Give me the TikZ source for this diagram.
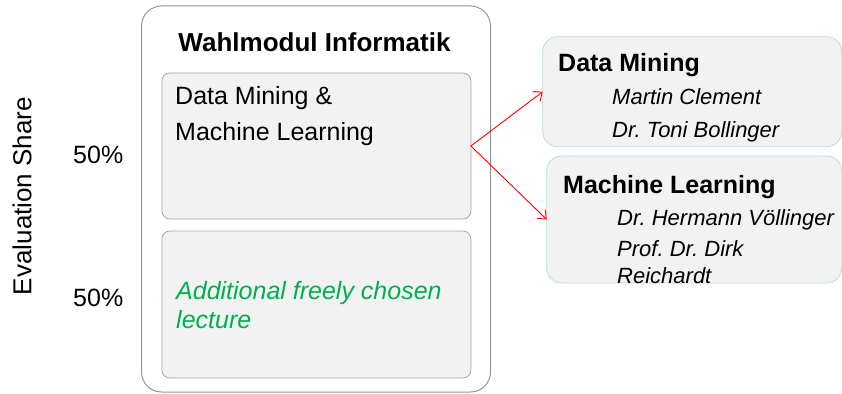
\documentclass[tikz,border=0pt]{standalone}
\usepackage{fontspec}
\setmainfont{Liberation Sans}
\usetikzlibrary{arrows.meta}
\frenchspacing
\definecolor{boxgray}{HTML}{F2F2F2}
\definecolor{edgegray}{HTML}{A6A6A6}
\definecolor{edgeblue}{HTML}{B7DDE8}
\definecolor{lecgreen}{HTML}{00B050}
\begin{document}
\begin{tikzpicture}[x=1pt,y=-1pt,
  modbox/.style={draw=edgegray,fill=boxgray,line width=0.8pt,rounded corners=8pt,inner sep=0pt,outer sep=0pt},
  lecbox/.style={draw=edgeblue,fill=boxgray,line width=0.8pt,rounded corners=15pt,inner sep=0pt,outer sep=0pt},
  txt/.style={anchor=base west,inner sep=0pt,font=\fontsize{25}{30}\selectfont},
  head/.style={txt,font=\fontsize{25}{30}\selectfont\bfseries},
  lecturer/.style={txt,font=\fontsize{22}{26}\selectfont\itshape},
  share/.style={-{Straight Barb[length=7pt,width=12pt]},red,line width=0.9pt}]
  \useasboundingbox (0,0) rectangle (842,393);

  % Anteile
  \node[rotate=90,inner sep=0pt,font=\fontsize{26}{30}\selectfont] (evshare) at (22,196) {Evaluation Share};
  \node[txt] (pct1) at (73,163) {50\%};
  \node[txt] (pct2) at (73,306) {50\%};

  % Wahlmodul
  \node[draw=edgegray!90!black,line width=1pt,rounded corners=20pt,minimum width=349pt,minimum height=386pt,inner sep=0pt] (modul) at (316,199) {};
  \node[head,anchor=base,font=\fontsize{26}{30}\selectfont\bfseries] (modtitle) at (314.5,52) {Wahlmodul Informatik};
  \node[modbox,minimum width=309pt,minimum height=146pt] (dmml) at (316.4,146) {};
  \node[modbox,minimum width=309pt,minimum height=147pt] (extra) at (316.4,304.5) {};
  \node[txt] (dmml1) at (175,105) {Data Mining \&};
  \node[txt] (dmml2) at (175,140) {Machine Learning};
  \node[txt,lecgreen,font=\fontsize{25}{30}\selectfont\itshape] (extra1) at (176,299) {Additional freely chosen};
  \node[txt,lecgreen,font=\fontsize{25}{30}\selectfont\itshape] (extra2) at (176,328) {lecture};

  % Vorlesungen
  \node[lecbox,minimum width=299pt,minimum height=110pt] (dm) at (692.2,91.7) {};
  \node[lecbox,minimum width=295pt,minimum height=127pt] (ml) at (694.2,219.5) {};
  \node[head] (dmtitle) at (558,72) {Data Mining};
  \node[lecturer] (dm1) at (612,104) {Martin Clement};
  \node[lecturer] (dm2) at (612,137) {Dr. Toni Bollinger};
  \node[head] (mltitle) at (563,193) {Machine Learning};
  \node[lecturer] (ml1) at (617,225) {Dr. Hermann Völlinger};
  \node[lecturer] (ml2) at (617,256) {Prof. Dr. Dirk};
  \node[lecturer] (ml3) at (617,283) {Reichardt};

  \draw[share] (dmml.east) -- (dm.west);
  \draw[share] (dmml.east) -- (ml.west);
\end{tikzpicture}
\end{document}
